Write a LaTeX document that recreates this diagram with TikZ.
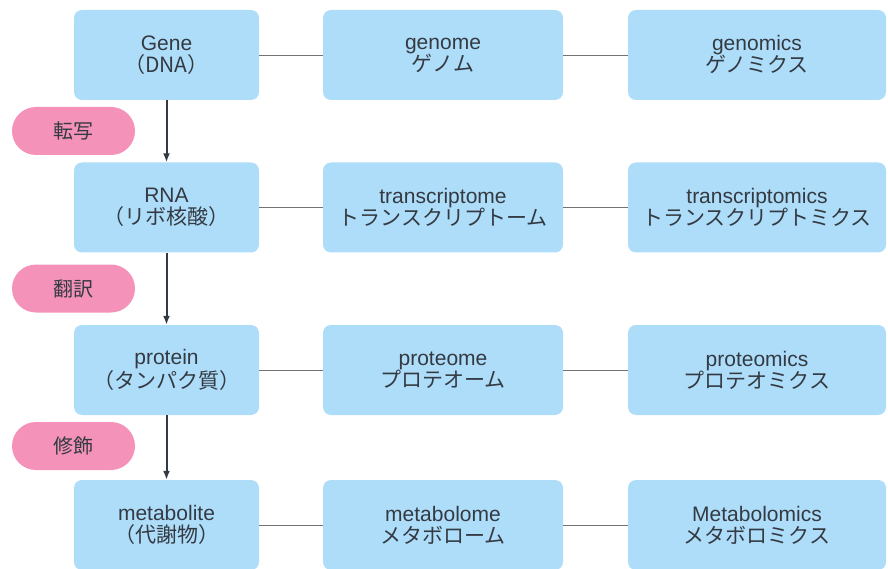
\documentclass[tikz,border=0pt]{standalone}
\usepackage{fontspec}
\setmainfont{Liberation Sans}
\newfontfamily\jp{Noto Sans CJK JP}
\usetikzlibrary{arrows.meta}
\definecolor{boxblue}{HTML}{AEDDFA}
\definecolor{pillpink}{HTML}{F592B9}
\definecolor{inkgray}{HTML}{343A42}

\begin{document}
\begin{tikzpicture}[x=1pt, y=-1pt,
		omebox/.style={fill=boxblue, rounded corners=8pt, minimum height=90pt, inner sep=0pt, align=center, text=inkgray, font=\fontsize{21}{22}\selectfont},
		stepbox/.style={fill=pillpink, rounded corners=24pt, minimum width=123pt, minimum height=48pt, inner sep=0pt, text=inkgray, font=\jp\fontsize{20}{22}\selectfont},
		link/.style={draw=black!55, line width=0.8pt},
		flow/.style={draw=inkgray, line width=2pt, -{Latex[length=9pt, width=7pt]}}]
		%%%%% START %%%%%
		
		\useasboundingbox (0, 0) rectangle (888, 569);
		
		\node[omebox, minimum width=185pt] (gene) at (166.5, 55) {Gene\\{\jp\fontsize{21}{22}\selectfont （DNA）}};
		\node[omebox, minimum width=240pt] (genome) at (443, 55) {genome\\{\jp\fontsize{21}{22}\selectfont ゲノム}};
		\node[omebox, minimum width=258pt] (genomics) at (757, 55) {genomics\\{\jp\fontsize{21}{22}\selectfont ゲノミクス}};
		
		\node[omebox, minimum width=185pt] (rna) at (166.5, 207.5) {RNA\\{\jp\fontsize{21}{22}\selectfont （リボ核酸）}};
		\node[omebox, minimum width=240pt] (transcriptome) at (443, 207.5) {transcriptome\\{\jp\fontsize{21}{22}\selectfont トランスクリプトーム}};
		\node[omebox, minimum width=258pt] (transcriptomics) at (757, 207.5) {transcriptomics\\{\jp\fontsize{21}{22}\selectfont トランスクリプトミクス}};
		
		\node[omebox, minimum width=185pt] (protein) at (166.5, 370) {protein\\{\jp\fontsize{21}{22}\selectfont （タンパク質）}};
		\node[omebox, minimum width=240pt] (proteome) at (443, 370) {proteome\\{\jp\fontsize{21}{22}\selectfont プロテオーム}};
		\node[omebox, minimum width=258pt] (proteomics) at (757, 370) {proteomics\\{\jp\fontsize{21}{22}\selectfont プロテオミクス}};
		
		\node[omebox, minimum width=185pt] (metabolite) at (166.5, 525) {metabolite\\{\jp\fontsize{21}{22}\selectfont （代謝物）}};
		\node[omebox, minimum width=240pt] (metabolome) at (443, 525) {metabolome\\{\jp\fontsize{21}{22}\selectfont メタボローム}};
		\node[omebox, minimum width=258pt] (metabolomics) at (757, 525) {Metabolomics\\{\jp\fontsize{21}{22}\selectfont メタボロミクス}};
		
		\node[stepbox] (tensha) at (73.5, 131) {転写};
		\node[stepbox] (honyaku) at (73.5, 288.5) {翻訳};
		\node[stepbox] (shushoku) at (73.5, 446) {修飾};
		
		\draw[link] (gene) -- (genome);
		\draw[link] (genome) -- (genomics);
		\draw[link] (rna) -- (transcriptome);
		\draw[link] (transcriptome) -- (transcriptomics);
		\draw[link] (protein) -- (proteome);
		\draw[link] (proteome) -- (proteomics);
		\draw[link] (metabolite) -- (metabolome);
		\draw[link] (metabolome) -- (metabolomics);
		
		\draw[flow] (gene) -- (rna);
		\draw[flow] (rna) -- (protein);
		\draw[flow] (protein) -- (metabolite);
		
		%%%%% END %%%%%
\end{tikzpicture}
\end{document}
